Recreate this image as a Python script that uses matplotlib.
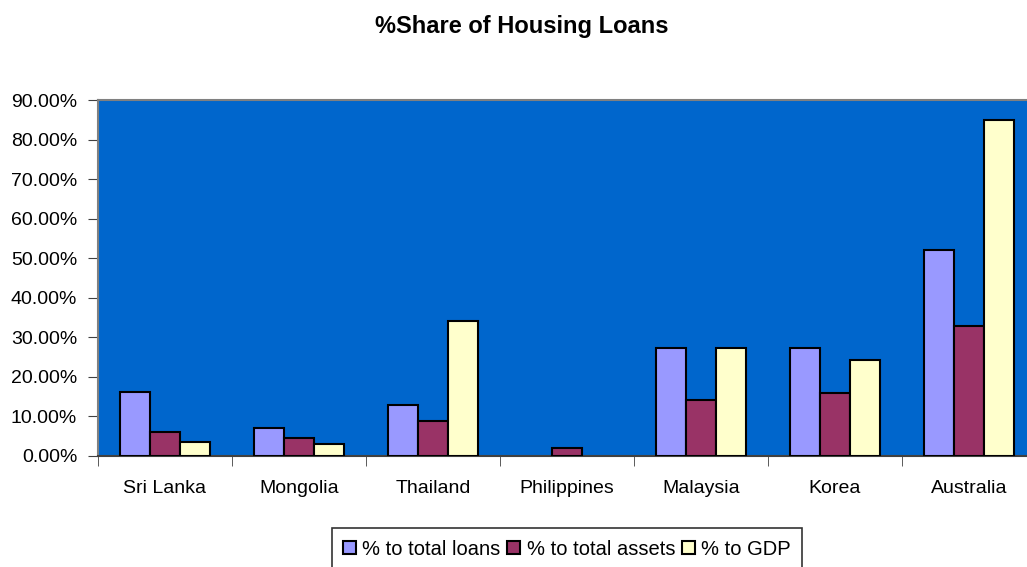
import numpy as np
import matplotlib.pyplot as plt
from matplotlib.ticker import FuncFormatter

plt.rcParams['font.family'] = ['Liberation Sans', 'DejaVu Sans']

countries = ["Sri Lanka", "Mongolia", "Thailand", "Philippines", "Malaysia", "Korea", "Australia"]
to_loans = [16.2, 7.1, 12.9, 0.0, 27.3, 27.3, 52.1]
to_assets = [6.1, 4.5, 8.8, 2.1, 14.2, 15.9, 32.9]
to_gdp = [3.6, 3.1, 34.1, 0.0, 27.3, 24.3, 84.9]

series = [
    ("% to total loans", to_loans, "#9999FF"),
    ("% to total assets", to_assets, "#993366"),
    ("% to GDP", to_gdp, "#FFFFCC"),
]

fig = plt.figure(figsize=(10.27, 5.67), dpi=100)
ax = fig.add_axes([0.0954, 0.1958, 0.9134, 0.6278])
ax.set_facecolor("#0066CC")

x = np.arange(len(countries))
w = 0.224
for i, (name, vals, col) in enumerate(series):
    bars = ax.bar(x + (i - 1) * w, vals, w, color=col, edgecolor="black",
                  linewidth=1.5, label=name, zorder=3)
    # empty values get no outline
    for b, v in zip(bars, vals):
        if v == 0:
            b.set_linewidth(0)

ax.set_xlim(-0.5, len(countries) - 0.5)
ax.set_ylim(0, 90)
ax.set_yticks(np.arange(0, 91, 10))
ax.yaxis.set_major_formatter(FuncFormatter(lambda v, p: "%.2f%%" % v))
ax.set_xticks(x)
ax.set_xticklabels(countries)
ax.set_xticks(np.arange(-0.5, len(countries), 1), minor=True)
ax.tick_params(axis="x", which="major", length=0, pad=17, labelsize=14)
ax.tick_params(axis="x", which="minor", length=7, color="#404040")
ax.tick_params(axis="y", length=7, color="#404040", labelsize=14, pad=8)

for side in ["top", "left", "bottom"]:
    ax.spines[side].set_color("#808080")
    ax.spines[side].set_linewidth(1.5)
ax.spines["bottom"].set_color("#404040")
ax.spines["right"].set_visible(False)

fig.text(0.508, 0.953, "%Share of Housing Loans", ha="center", va="center",
         fontsize=17, fontweight="bold")

leg = fig.legend(loc="upper center", bbox_to_anchor=(0.552, 0.068), ncol=3,
                 frameon=True, fancybox=False, fontsize=14.5,
                 handlelength=0.65, handleheight=0.65, handletextpad=0.3,
                 columnspacing=0.35, borderpad=0.55, borderaxespad=0)
leg.get_frame().set_edgecolor("black")
leg.get_frame().set_linewidth(1.2)

fig.savefig("out.png", dpi=100)
